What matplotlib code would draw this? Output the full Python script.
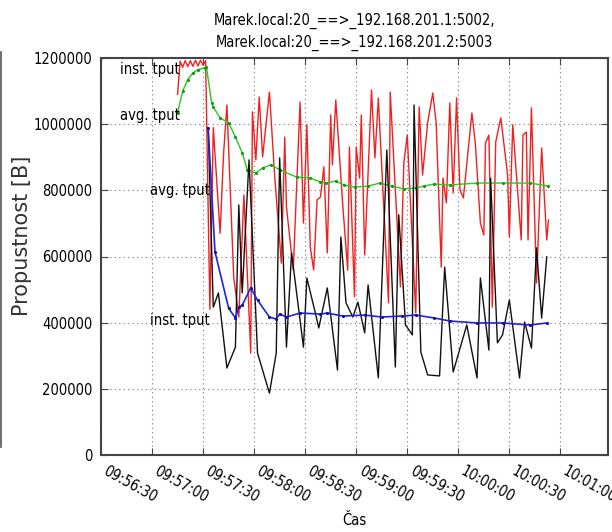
import numpy as np
import matplotlib
matplotlib.use("Agg")
import matplotlib.pyplot as plt
from matplotlib import font_manager
from matplotlib.lines import Line2D

# cas v sekundach od 09:56:30, hodnoty v kB (x1000 = B)
red_t = [45, 46.5, 48, 49.5, 51, 52.5, 54, 55.5, 57, 58.5, 60, 61.5,
         64, 66, 70, 72, 74, 78, 81, 84, 88, 89,
         91, 93, 95, 99, 102, 106, 108, 109, 113, 117,
         119, 121, 123, 125, 127, 129, 131, 133, 135, 136,
         138, 142, 145, 146, 149, 150, 152, 153, 155, 159,
         161, 163, 169, 170, 176, 178, 180, 185, 187, 189,
         192, 195, 197, 200, 201, 203, 205, 207, 209, 211,
         213, 218, 220, 223, 225, 226, 228, 230, 232, 235,
         239, 240, 242, 247, 248, 250, 251, 253, 256, 259,
         262, 263]
red_v = [1090, 1190, 1172, 1192, 1174, 1192, 1175, 1193, 1176, 1193, 1178, 1192,
         440, 990, 670, 907, 1058, 538, 417, 786, 308, 1037,
         892, 1082, 901, 1097, 850, 580, 961, 750, 559, 1067,
         701, 998, 629, 559, 771, 780, 871, 611, 1028, 877,
         1073, 762, 559, 931, 478, 931, 837, 1028, 605, 1103,
         898, 1079, 460, 1097, 508, 883, 967, 429, 1052, 846,
         1004, 1094, 1004, 568, 837, 762, 1064, 792, 1079, 801,
         777, 1034, 943, 701, 665, 943, 967, 447, 946, 1019,
         846, 659, 998, 650, 967, 976, 650, 1049, 520, 928,
         650, 710]

green_t = [45, 48, 51, 54, 57, 61, 62, 65, 66, 70, 75, 79, 83, 86, 91, 95,
           100, 105, 115, 123, 129, 132, 138, 143, 149, 157, 164, 171,
           178, 185, 190, 196, 205, 221, 236, 252, 263]
green_v = [1034, 1100, 1135, 1155, 1165, 1170, 1173, 1064, 1052, 1019, 1004,
           961, 913, 862, 852, 868, 877, 862, 840, 837, 825, 822, 828, 816,
           810, 813, 822, 813, 804, 807, 813, 819, 816, 822, 822, 822, 813]

black_t = [63, 66, 69, 74, 79, 81, 83, 87, 92, 99,
           103, 105, 109, 112, 119, 121, 126, 128, 133, 139,
           141, 144, 148, 151, 155, 157, 163, 168, 173, 175,
           179, 183, 184, 188, 192, 199, 202, 207, 215, 221,
           223, 228, 229, 233, 236, 240, 246, 249, 253, 256,
           259, 262]
black_v = [988, 447, 490, 263, 326, 756, 490, 892, 308, 187,
           308, 898, 326, 611, 326, 535, 429, 384, 505, 257,
           659, 460, 417, 462, 369, 514, 233, 922, 266, 726,
           393, 363, 1058, 311, 242, 239, 568, 251, 393, 233,
           535, 317, 837, 339, 363, 468, 233, 402, 323, 626,
           414, 599]

blue_t = [63, 67, 75, 79, 81, 83, 88, 92, 99, 103, 105, 109, 117,
          129, 133, 142, 155, 165, 177, 185, 196, 205, 221, 236, 252, 262]
blue_v = [988, 614, 444, 414, 447, 453, 505, 468, 417, 411, 426, 417, 429,
          426, 429, 420, 423, 417, 420, 423, 414, 405, 399, 399, 393, 399]

tick_pos = [0, 30, 60, 90, 120, 150, 180, 210, 240, 270]
tick_lab = ["09:56:30", "09:57:00", "09:57:30", "09:58:00", "09:58:30",
            "09:59:00", "09:59:30", "10:00:00", "10:00:30", "10:01:00"]

title = "Marek.local:20_==>_192.168.201.1:5002,\nMarek.local:20_==>_192.168.201.2:5003"

# uzsi pismo, pokud je k dispozici
fs = 9.5
plt.rcParams["font.family"] = ["DejaVu Sans"]
for f in font_manager.fontManager.ttflist:
    fn = f.fname.replace("\\", "/").split("/")[-1]
    if fn == "DejaVuSansCondensed.ttf":
        plt.rcParams["font.stretch"] = f.stretch
        fs = 10.5
        break

fig = plt.figure(figsize=(6.12, 5.32), dpi=100)
ax = fig.add_axes([101 / 612, 77 / 532, 507 / 612, 397 / 532])

k = 1000
ax.plot(red_t, np.array(red_v) * k, color="#f02020", lw=1.0)
ax.plot(green_t, np.array(green_v) * k, color="#22cc22", lw=1.0,
        marker=".", ms=2.5, mfc="#119911", mec="#119911")
ax.plot(black_t, np.array(black_v) * k, color="#111111", lw=1.0)
ax.plot(blue_t, np.array(blue_v) * k, color="#2222dd", lw=1.2,
        marker=".", ms=2.5, mfc="#111199", mec="#111199")

ax.text(46, 1165000, "inst. tput", ha="right", va="center", fontsize=fs)
ax.text(46, 1025000, "avg. tput", ha="right", va="center", fontsize=fs)
ax.text(64, 801000, "avg. tput", ha="right", va="center", fontsize=fs)
ax.text(64, 408000, "inst. tput", ha="right", va="center", fontsize=fs)

ax.set_xlim(0, 298)
ax.set_ylim(0, 1200000)
ax.set_yticks(range(0, 1200001, 200000))
ax.set_yticklabels([str(v) for v in range(0, 1200001, 200000)], fontsize=fs)
ax.set_xticks(tick_pos)
ax.set_xticklabels(tick_lab, fontsize=fs, rotation=-29, ha="left",
                   va="top", rotation_mode="default")

ax.tick_params(direction="in", top=True, right=True, length=5,
               color="#444444")
ax.tick_params(axis="y", pad=6)
ax.tick_params(axis="x", pad=6)
ax.grid(True, color="#777777", linestyle=(0, (1, 3)), lw=0.8)
for s in ax.spines.values():
    s.set_color("#444444")
    s.set_linewidth(1.5)

ax.set_title(title, fontsize=fs, pad=8, linespacing=1.45)
ax.set_xlabel("Čas", fontsize=fs, labelpad=6)
ax.set_ylabel("Propustnost [B]", fontsize=15, fontstretch="normal",
              color="#333333")
ax.yaxis.set_label_coords(-0.136, 0.552)

# zbytek sousedniho grafu na levem okraji
fig.add_artist(Line2D([0.002, 0.002], [85 / 532, 480 / 532], color="#555555", lw=1.2))

fig.savefig("out.png", dpi=100)
